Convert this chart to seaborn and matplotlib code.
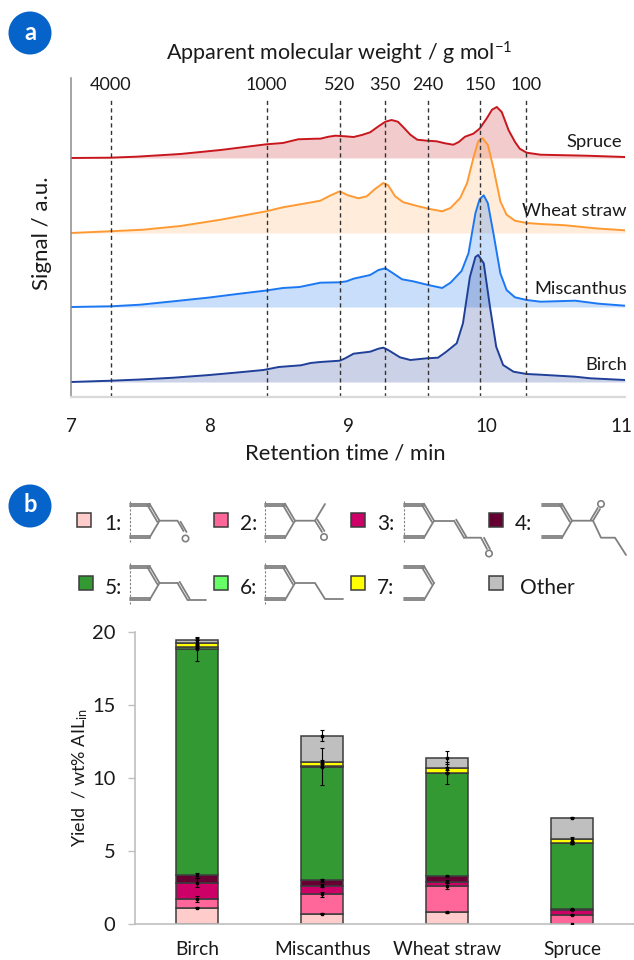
import numpy as np
import pandas as pd
import matplotlib.pyplot as plt
import seaborn as sns
from matplotlib.patches import Circle, Rectangle
from matplotlib.transforms import ScaledTranslation

sns.set_theme(style='white')
plt.rcParams['font.family'] = ['Lato', 'DejaVu Sans']
plt.rcParams['mathtext.fontset'] = 'custom'
plt.rcParams['mathtext.rm'] = 'Lato'
plt.rcParams['mathtext.default'] = 'regular'

W, H = 634, 960

# panel a - chromatograms, height above each trace's own baseline (a.u.)
spruce_t = [7.0, 7.28, 7.47, 7.79, 8.08, 8.41, 8.53, 8.64, 8.77, 8.80, 8.86, 8.91, 8.98, 9.04, 9.10, 9.16, 9.22, 9.27, 9.315, 9.36, 9.40, 9.45, 9.50, 9.57, 9.64, 9.70, 9.76, 9.80, 9.845, 9.905, 9.95, 10.0, 10.04, 10.074, 10.11, 10.16, 10.206, 10.24, 10.29, 10.39, 10.72, 11.0]
spruce_s = [0, 0.3, 1.3, 4, 8, 13.7, 15, 18.7, 19.3, 19.3, 21.3, 22.3, 21.7, 21, 23, 25.7, 31.7, 36.3, 38, 36.3, 30.7, 23.3, 18.3, 17.3, 16.7, 14.7, 13.3, 16, 21.3, 24.3, 29.3, 39.3, 48.3, 51, 46, 27.7, 16, 9.3, 5.3, 3.3, 2.3, 1]
wheat_t = [7.0, 7.28, 7.52, 7.79, 8.08, 8.41, 8.53, 8.75, 8.80, 8.87, 8.94, 9.0, 9.075, 9.135, 9.195, 9.255, 9.29, 9.34, 9.40, 9.50, 9.59, 9.68, 9.74, 9.81, 9.86, 9.905, 9.94, 9.97, 10.01, 10.05, 10.10, 10.145, 10.205, 10.29, 10.39, 10.57, 10.8, 11.0]
wheat_s = [0, 1.7, 3.3, 7, 13.3, 21.7, 25.7, 31, 32.3, 37.3, 41.7, 37.7, 34.7, 36.7, 44, 50, 47.7, 36.7, 30.7, 27, 24, 21.7, 25, 35, 50, 75, 91.7, 95, 88, 65, 31.7, 18.3, 12.3, 10, 9, 7.7, 4.5, 2.7]
misc_t = [7.0, 7.29, 7.5, 7.74, 8.0, 8.2, 8.41, 8.53, 8.65, 8.72, 8.80, 8.94, 8.99, 9.04, 9.16, 9.22, 9.27, 9.315, 9.39, 9.47, 9.57, 9.68, 9.74, 9.82, 9.87, 9.92, 9.95, 9.98, 10.01, 10.05, 10.10, 10.145, 10.205, 10.29, 10.39, 10.64, 10.81, 11.0]
misc_s = [0, 0.7, 2.3, 5.7, 9.5, 13, 16.5, 19, 20, 22, 24.3, 24.7, 25.7, 28.3, 32, 37, 38.7, 34.7, 27.7, 25.7, 22.3, 19, 24.3, 36, 53.7, 93.7, 107.7, 111.7, 103.7, 73.7, 33.7, 17, 9.7, 7, 5.3, 6.3, 3.3, 1.3]
birch_t = [7.0, 7.29, 7.5, 7.74, 8.0, 8.2, 8.39, 8.5, 8.66, 8.73, 8.80, 8.94, 8.98, 9.04, 9.16, 9.22, 9.255, 9.29, 9.375, 9.45, 9.57, 9.65, 9.71, 9.785, 9.83, 9.88, 9.92, 9.94, 9.98, 10.025, 10.07, 10.12, 10.195, 10.29, 10.39, 10.64, 10.75, 11.0]
birch_s = [0, 1.3, 2.5, 4.3, 7, 9.5, 12, 15, 16.7, 19, 20, 21.3, 23.7, 28.3, 30.3, 33.3, 34.3, 32, 24.7, 22, 23.7, 24.3, 30.3, 38.7, 58.7, 105, 125, 127, 118.7, 75.3, 35.3, 17, 10.3, 8, 7.3, 5.3, 3.7, 2]

trace_names = ['Spruce', 'Wheat straw', 'Miscanthus', 'Birch']
trace_t = [spruce_t, wheat_t, misc_t, birch_t]
trace_s = [spruce_s, wheat_s, misc_s, birch_s]
trace_base = [239, 164, 90, 15]
trace_colors = ['#c8161d', '#ff9a33', '#1c78f2', '#1f3f99']
trace_fill = [0.22, 0.18, 0.24, 0.23]

mw_labels = ['4000', '1000', '520', '350', '240', '150', '100']
mw_times = [7.286, 8.412, 8.943, 9.267, 9.576, 9.956, 10.285]

# panel b - stacked yields
feedstocks = ['Birch', 'Miscanthus', 'Wheat straw', 'Spruce']
comp_colors = ['#ffcccc', '#ff6699', '#cc0066', '#660033', '#339933', '#66ff66', '#ffff00', '#bfbfbf']
comp_1 = [1.12, 0.71, 0.80, 0.0]
comp_2 = [0.59, 1.32, 1.78, 0.64]
comp_3 = [1.12, 0.60, 0.32, 0.34]
comp_4 = [0.50, 0.36, 0.39, 0.03]
comp_5 = [15.48, 7.79, 7.03, 4.52]
comp_6 = [0.19, 0.05, 0.05, 0.03]
comp_7 = [0.22, 0.29, 0.29, 0.25]
comp_o = [0.21, 1.78, 0.73, 1.48]
err_1 = [0.05, 0.03, 0.03, np.nan]
err_2 = [0.18, 0.18, 0.20, 0.05]
err_3 = [0.30, 0.08, 0.10, 0.05]
err_4 = [0.15, 0.08, 0.03, 0.03]
err_5 = [0.80, 1.25, 0.75, 0.08]
err_6 = [0.10, 0.10, 0.05, 0.05]
err_7 = [0.20, 0.12, 0.12, 0.12]
err_o = [0.25, 0.38, 0.43, 0.03]
comps = [comp_1, comp_2, comp_3, comp_4, comp_5, comp_6, comp_7, comp_o]
errs = [err_1, err_2, err_3, err_4, err_5, err_6, err_7, err_o]


def px_axes(fig, left, top, right, bottom):
    return fig.add_axes([left / W, 1 - bottom / H, (right - left) / W, (bottom - top) / H])


fig = plt.figure(figsize=(W / 100, H / 100), dpi=100, facecolor='white')

# ---- panel a
ax1 = px_axes(fig, 71, 78, 625, 397)
for name, t, s, base, col, alpha in zip(trace_names, trace_t, trace_s, trace_base, trace_colors, trace_fill):
    df = pd.DataFrame({'t': t, 'y': np.array(s, dtype=float) + base})
    ax1.fill_between(df['t'], base, df['y'], color=col, alpha=alpha, lw=0)
    sns.lineplot(data=df, x='t', y='y', color=col, lw=1.4, estimator=None, sort=False, ax=ax1,
                 solid_joinstyle='round')
ax1.vlines(mw_times, 0, 299, color='#333333', lw=1.0, linestyles=(0, (3, 2.4)))
ax1.set_xlim(7, 11)
ax1.set_ylim(0, 319)
ax1.set_xticks([7, 8, 9, 10, 11])
ax1.set_yticks([])
ax1.set_xlabel('')
ax1.set_ylabel('')
ax1.tick_params(axis='x', length=0, pad=15, labelsize=13.5, labelcolor='#1a1a1a')
# the last label sits right at the picture edge, nudge it inside
last = ax1.get_xticklabels()[-1]
last.set_transform(last.get_transform() + ScaledTranslation(-4 / 100, 0, fig.dpi_scale_trans))
sns.despine(ax=ax1, top=True, right=True)
ax1.spines['left'].set_color('#8c8c8c')
ax1.spines['left'].set_linewidth(1.1)
ax1.spines['bottom'].set_color('#d9d9d9')
ax1.spines['bottom'].set_linewidth(1.6)

# ---- panel b
ax2 = px_axes(fig, 135, 632, 634, 924)
bottoms = np.zeros(len(feedstocks))
for vals, err, col in zip(comps, errs, comp_colors):
    sns.barplot(x=feedstocks, y=vals, bottom=bottoms, color=col, saturation=1, width=0.336,
                edgecolor='#3c3c3c', linewidth=1.1, ax=ax2)
    bottoms = bottoms + np.array(vals)
    ax2.errorbar(np.arange(len(feedstocks)), bottoms, yerr=err, fmt='s', ms=2, color='black',
                 ecolor='black', elinewidth=0.8, capsize=1.6, capthick=0.8, zorder=5)
ax2.set_xlim(-0.498, 3.494)
ax2.set_ylim(0, 20)
ax2.set_yticks([0, 5, 10, 15, 20])
ax2.tick_params(axis='y', length=5, width=1, color='#bfbfbf', pad=9, labelsize=14.5, labelcolor='#1a1a1a', left=True)
ax2.tick_params(axis='x', length=0, pad=12, labelsize=13.8, labelcolor='#1a1a1a')
sns.despine(ax=ax2, top=True, right=True)
for sp in ['left', 'bottom']:
    ax2.spines[sp].set_color('#bfbfbf')
    ax2.spines[sp].set_linewidth(1.2)

# ---- overlay in pixel coordinates for the annotations and the legend
ov = fig.add_axes([0, 0, 1, 1], zorder=10)
ov.set_xlim(0, W)
ov.set_ylim(H, 0)
ov.axis('off')

ink = '#1a1a1a'
ov.text(339, 53, 'Apparent molecular weight / g mol$^{-1}$', ha='center', va='center', fontsize=15.5, color=ink)
ov.text(345, 454, 'Retention time / min', ha='center', va='center', fontsize=15.8, color=ink)
ov.text(42, 233, 'Signal / a.u.', ha='center', va='center', rotation=90, fontsize=16, color=ink)
ov.text(80, 778, 'Yield  / wt% AIL$_{in}$', ha='center', va='center', rotation=90, fontsize=13, color=ink)
for lab, t in zip(mw_labels, mw_times):
    ov.text(71 + (t - 7) * 138.5, 85, lab, ha='center', va='center', fontsize=13, color=ink)
for name, x, y in [('Spruce', 622, 142), ('Wheat straw', 627, 211), ('Miscanthus', 627, 289), ('Birch', 627, 365)]:
    ov.text(x, y, name, ha='right', va='center', fontsize=13.2, color=ink)

for lab, y in [('a', 33), ('b', 506)]:
    ov.add_patch(Circle((30, y), 21.5, color='#0563c9', lw=0))
    ov.text(30, y - 1, lab, color='white', ha='center', va='center', fontsize=17, fontweight='bold')

# legend swatches and labels
legend_items = [('1:', 77, 519.5, 104), ('2:', 214, 519.5, 240), ('3:', 351, 519.5, 377), ('4:', 489, 519.5, 515),
                ('5:', 79, 583, 105), ('6:', 214, 583, 240), ('7:', 351, 583, 377), ('Other', 489, 583, 520)]
for (lab, sx, sy, tx), col in zip(legend_items, comp_colors):
    ov.add_patch(Rectangle((sx, sy - 7), 14, 14, facecolor=col, edgecolor='#3c3c3c', lw=1.1))
    ov.text(tx, sy + 5, lab, ha='left', va='center', fontsize=15, color=ink)

bond = '#808080'


def line(pts, lw=1.3):
    xs, ys = zip(*pts)
    ov.plot(xs, ys, color=bond, lw=lw, solid_capstyle='round', solid_joinstyle='round')


def double(a, b, off=(0, 2.2)):
    line([a, b])
    line([(a[0] + off[0], a[1] + off[1]), (b[0] + off[0], b[1] + off[1])])


def ring(x0, yc, dashed=True):
    top, bot = yc - 17, yc + 17
    if dashed:
        ov.plot([x0, x0], [top - 3, bot + 4], color=bond, lw=0.8, ls=(0, (2, 1.5)))
    double((x0, top), (x0 + 20, top))
    double((x0 + 20, top), (x0 + 30, yc), off=(-2.2, 1.1))
    line([(x0 + 30, yc), (x0 + 20, bot)])
    double((x0 + 20, bot), (x0, bot), off=(0, -2.2))
    return x0 + 30


def oxygen(x, y):
    ov.add_patch(Circle((x, y), 3.2, facecolor='white', edgecolor=bond, lw=1.2))


# 1
ax_ = ring(129.5, 520.7)
line([(ax_, 520.7), (ax_ + 18, 520.7), (ax_ + 24, 531)])
line([(ax_ + 21, 520.7 + 1), (ax_ + 27, 532)])
oxygen(ax_ + 26, 538.5)
# 2
ax_ = ring(265, 520.7)
line([(ax_, 520.7), (ax_ + 20, 520.7), (ax_ + 30, 504)])
double((ax_ + 20, 520.7), (ax_ + 27, 532), off=(2.4, -1))
oxygen(ax_ + 29, 537)
# 3
ax_ = ring(404, 520.7)
line([(ax_, 520.7), (ax_ + 20, 520.7)])
double((ax_ + 20, 520.7), (ax_ + 30, 537.7), off=(2.2, -1.1))
line([(ax_ + 30, 537.7), (ax_ + 47, 537.7), (ax_ + 53, 549)])
line([(ax_ + 50, 537.7), (ax_ + 56, 549)])
oxygen(ax_ + 55, 553.5)
# 4
ax_ = ring(542, 520.7, dashed=False)
line([(ax_, 520.7), (ax_ + 21, 520.7), (ax_ + 29, 537.7), (ax_ + 43, 537.7), (ax_ + 54, 555)])
double((ax_ + 21, 520.7), (ax_ + 28, 509), off=(-2.2, -1.1))
oxygen(ax_ + 29, 504)
# 5
ax_ = ring(129.5, 583)
line([(ax_, 583), (ax_ + 18, 583)])
double((ax_ + 18, 583), (ax_ + 28, 600), off=(2.2, -1.1))
line([(ax_ + 28, 600), (ax_ + 46, 600)])
# 6
ax_ = ring(265, 583)
line([(ax_, 583), (ax_ + 20, 583), (ax_ + 30, 599), (ax_ + 48, 599)])
# 7
ring(404, 583, dashed=False)

fig.savefig('out.png', dpi=100)
